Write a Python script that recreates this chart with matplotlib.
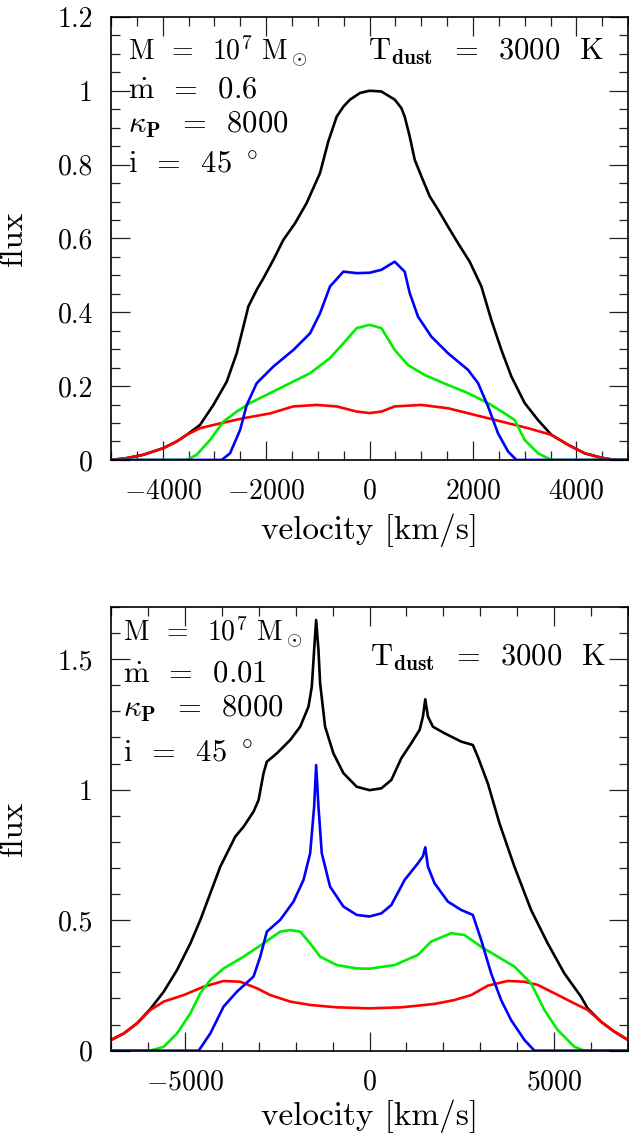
import matplotlib
matplotlib.use('Agg')
import matplotlib.pyplot as plt
from matplotlib.ticker import MultipleLocator, FixedLocator, FixedFormatter

plt.rcParams['font.family'] = 'cmr10'
plt.rcParams['mathtext.fontset'] = 'cm'
plt.rcParams['axes.formatter.use_mathtext'] = True

# ---- top panel (mdot = 0.6), velocity in km/s ----
top_black_v = [-5000, -4698, -4375, -3988, -3730, -3536, -3278, -3020, -2762, -2569, -2440, -2343,
               -2182, -2053, -1860, -1667, -1441, -1216, -958, -797, -635, -500, -377, -184, 0,
               229, 487, 616, 680, 777, 874, 1003, 1164, 1325, 1518, 1712, 1937, 2163, 2356,
               2550, 2743, 3001, 3259, 3517, 3840, 4162, 4484, 4742, 5000]
top_black_f = [0, 0.005, 0.014, 0.032, 0.050, 0.068, 0.095, 0.149, 0.212, 0.289, 0.361, 0.416,
               0.461, 0.492, 0.542, 0.596, 0.641, 0.696, 0.777, 0.863, 0.930, 0.958, 0.976, 0.994, 1.0,
               0.998, 0.976, 0.953, 0.930, 0.876, 0.813, 0.768, 0.714, 0.678, 0.632, 0.587, 0.537,
               0.470, 0.379, 0.298, 0.226, 0.154, 0.108, 0.068, 0.041, 0.018, 0.006, 0, 0]

top_red_v = [-5000, -4698, -4375, -3988, -3730, -3536, -3278, -2891, -2440, -1924, -1473, -1022,
             -635, -248, 0, 229, 487, 1003, 1518, 2034, 2550, 3066, 3517, 3840, 4162, 4484, 4742, 5000]
top_red_f = [0, 0.005, 0.014, 0.032, 0.050, 0.068, 0.086, 0.099, 0.113, 0.126, 0.145, 0.149,
             0.145, 0.131, 0.127, 0.131, 0.145, 0.149, 0.140, 0.122, 0.104, 0.086, 0.068, 0.041,
             0.018, 0.006, 0, 0]

top_green_v = [-5000, -3536, -3343, -3085, -2827, -2569, -2311, -1924, -1537, -1150, -764, -506,
               -248, 0, 229, 487, 745, 1067, 1518, 1905, 2292, 2614, 2808, 3001, 3259, 3517, 5000]
top_green_f = [0, 0, 0.014, 0.054, 0.104, 0.131, 0.154, 0.181, 0.208, 0.235, 0.276, 0.316,
               0.357, 0.366, 0.357, 0.298, 0.257, 0.230, 0.203, 0.181, 0.154, 0.126, 0.108, 0.054,
               0.018, 0, 0]

top_blue_v = [-5000, -2859, -2698, -2504, -2375, -2182, -1860, -1473, -1150, -958, -764, -506,
              -248, 0, 229, 487, 680, 777, 938, 1196, 1518, 1905, 2099, 2292, 2485, 2679, 2840, 5000]
top_blue_f = [0, 0, 0.018, 0.081, 0.149, 0.208, 0.253, 0.298, 0.343, 0.397, 0.470, 0.510,
              0.506, 0.507, 0.515, 0.537, 0.510, 0.452, 0.388, 0.334, 0.289, 0.244, 0.208, 0.145,
              0.072, 0.023, 0, 0]

# ---- bottom panel (mdot = 0.01) ----
bot_black_v = [-7000, -6653, -6293, -5933, -5572, -5212, -4851, -4581, -4311, -4041, -3861, -3636,
               -3410, -3140, -3005, -2870, -2780, -2509, -2149, -1878, -1653, -1563, -1500, -1446,
               -1383, -1338, -1203, -978, -707, -347, 0, 320, 590, 860, 1131, 1356, 1446, 1509,
               1581, 1716, 2031, 2482, 2797, 2932, 3203, 3518, 3923, 4374, 4824, 5275, 5725, 5906,
               6266, 6626, 7000]
bot_black_f = [0.041, 0.066, 0.105, 0.160, 0.226, 0.309, 0.411, 0.501, 0.603, 0.705, 0.756, 0.820,
               0.858, 0.916, 0.960, 1.063, 1.107, 1.139, 1.190, 1.241, 1.318, 1.395, 1.535, 1.650,
               1.535, 1.407, 1.241, 1.139, 1.063, 1.011, 0.998, 1.005, 1.037, 1.120, 1.178, 1.229,
               1.280, 1.346, 1.280, 1.241, 1.216, 1.184, 1.171, 1.126, 1.024, 0.871, 0.705, 0.539,
               0.411, 0.296, 0.207, 0.162, 0.111, 0.073, 0.041]

bot_red_v = [-7000, -6653, -6293, -5933, -5572, -5032, -4491, -3951, -3500, -3050, -2689, -2149,
             -1608, -887, 0, 860, 1761, 2302, 2752, 3203, 3743, 4194, 4554, 5004, 5545, 5906,
             6266, 6626, 7000]
bot_red_f = [0.041, 0.066, 0.105, 0.156, 0.188, 0.213, 0.245, 0.267, 0.264, 0.239, 0.213, 0.188,
             0.175, 0.166, 0.162, 0.166, 0.179, 0.194, 0.213, 0.249, 0.267, 0.264, 0.252, 0.220,
             0.181, 0.156, 0.111, 0.073, 0.041]

bot_green_v = [-7000, -5933, -5572, -5212, -4851, -4581, -4311, -3951, -3410, -2870, -2419, -2149,
               -1878, -1608, -1338, -887, -347, 0, 680, 1311, 1671, 2212, 2572, 3023, 3473, 3924,
               4374, 4734, 5095, 5545, 5815, 7000]
bot_green_f = [0, 0, 0.015, 0.066, 0.143, 0.220, 0.271, 0.315, 0.360, 0.411, 0.456, 0.462,
               0.456, 0.411, 0.360, 0.328, 0.315, 0.314, 0.328, 0.367, 0.418, 0.450, 0.443, 0.398,
               0.360, 0.322, 0.258, 0.156, 0.079, 0.015, 0, 0]

bot_blue_v = [-7000, -4626, -4311, -3951, -3590, -3140, -2960, -2780, -2419, -2059, -1788, -1608,
              -1500, -1446, -1383, -1293, -1068, -707, -347, 0, 320, 590, 950, 1311, 1446, 1509,
              1581, 1761, 2122, 2482, 2797, 3023, 3293, 3563, 3833, 4194, 4464, 7000]
bot_blue_f = [0, 0, 0.066, 0.169, 0.226, 0.284, 0.360, 0.456, 0.501, 0.571, 0.654, 0.756,
              0.935, 1.094, 0.935, 0.756, 0.628, 0.552, 0.520, 0.514, 0.526, 0.558, 0.654, 0.718,
              0.745, 0.779, 0.705, 0.641, 0.571, 0.539, 0.520, 0.424, 0.296, 0.194, 0.117, 0.041,
              0, 0]

top_xticks = [-4000, -2000, 0, 2000, 4000]
top_xlabels = ['$-4000$', '$-2000$', '$0$', '$2000$', '$4000$']
top_yticks = [0, 0.2, 0.4, 0.6, 0.8, 1.0, 1.2]
top_ylabels = ['0', '0.2', '0.4', '0.6', '0.8', '1', '1.2']
bot_xticks = [-5000, 0, 5000]
bot_xlabels = ['$-5000$', '$0$', '$5000$']
bot_yticks = [0, 0.5, 1.0, 1.5]
bot_ylabels = ['0', '0.5', '1', '1.5']

top_text = [r'M  =  10$^7$ M$_\odot$', r'$\dot{\rm m}$  =  0.6', r'$\kappa_{\bf P}$  =  8000',
            r'i  =  45 $^\circ$']
bot_text = [r'M  =  10$^7$ M$_\odot$', r'$\dot{\rm m}$  =  0.01', r'$\kappa_{\bf P}$  =  8000',
            r'i  =  45 $^\circ$']
tdust_text = r'T$_{\bf dust}$  =  3000  K'

fig = plt.figure(figsize=(6.29, 11.34), dpi=100)
ax1 = fig.add_axes([0.1765, 0.5944, 0.822, 0.3907])
ax2 = fig.add_axes([0.1765, 0.0735, 0.822, 0.3913])

lw = 1.9
for ax, curves in [(ax1, [(top_black_v, top_black_f, 'black'), (top_red_v, top_red_f, '#ff0000'),
                          (top_green_v, top_green_f, '#00ee00'), (top_blue_v, top_blue_f, '#0000ff')]),
                   (ax2, [(bot_black_v, bot_black_f, 'black'), (bot_red_v, bot_red_f, '#ff0000'),
                          (bot_green_v, bot_green_f, '#00ee00'), (bot_blue_v, bot_blue_f, '#0000ff')])]:
    for v, f, c in curves:
        ax.plot(v, f, color=c, lw=lw, solid_joinstyle='round')

def style(ax, xt, xl, xminor, yt, yl, yminor):
    ax.xaxis.set_major_locator(FixedLocator(xt))
    ax.xaxis.set_major_formatter(FixedFormatter(xl))
    ax.yaxis.set_major_locator(FixedLocator(yt))
    ax.yaxis.set_major_formatter(FixedFormatter(yl))
    ax.xaxis.set_minor_locator(MultipleLocator(xminor))
    ax.yaxis.set_minor_locator(MultipleLocator(yminor))
    ax.tick_params(which='both', direction='in', top=True, right=True, width=0.9, color='#222222')
    ax.tick_params(which='major', length=14, labelsize=20, pad=13)
    ax.tick_params(which='minor', length=6.5)
    for s in ax.spines.values():
        s.set_linewidth(1.2)
    ax.set_ylabel('flux', fontsize=24)
    ax.set_xlabel('velocity [km/s]', fontsize=24)

ax1.set_xlim(-5000, 5000)
ax1.set_ylim(0, 1.2)
style(ax1, top_xticks, top_xlabels, 500, top_yticks, top_ylabels, 0.05)
ax1.yaxis.set_label_coords(-0.16, 0.5)
ax1.xaxis.set_label_coords(0.5, -0.12)

ax2.set_xlim(-7000, 7000)
ax2.set_ylim(0, 1.7)
style(ax2, bot_xticks, bot_xlabels, 1000, bot_yticks, bot_ylabels, 0.1)
ax2.yaxis.set_label_coords(-0.16, 0.5)
ax2.xaxis.set_label_coords(0.5, -0.11)

sizes = [20, 22, 22, 22]
for txt, y, s in zip(top_text, [0.901, 0.819, 0.738, 0.650], sizes):
    ax1.text(0.033, y, txt, transform=ax1.transAxes, fontsize=s, va='baseline', ha='left')
ax1.text(0.497, 0.903, tdust_text, transform=ax1.transAxes, fontsize=22, va='baseline', ha='left')

for txt, y, s in zip(bot_text, [0.923, 0.831, 0.752, 0.651], sizes):
    ax2.text(0.023, y, txt, transform=ax2.transAxes, fontsize=s, va='baseline', ha='left')
ax2.text(0.5, 0.867, tdust_text, transform=ax2.transAxes, fontsize=22, va='baseline', ha='left')

fig.savefig('out.png', dpi=100)
